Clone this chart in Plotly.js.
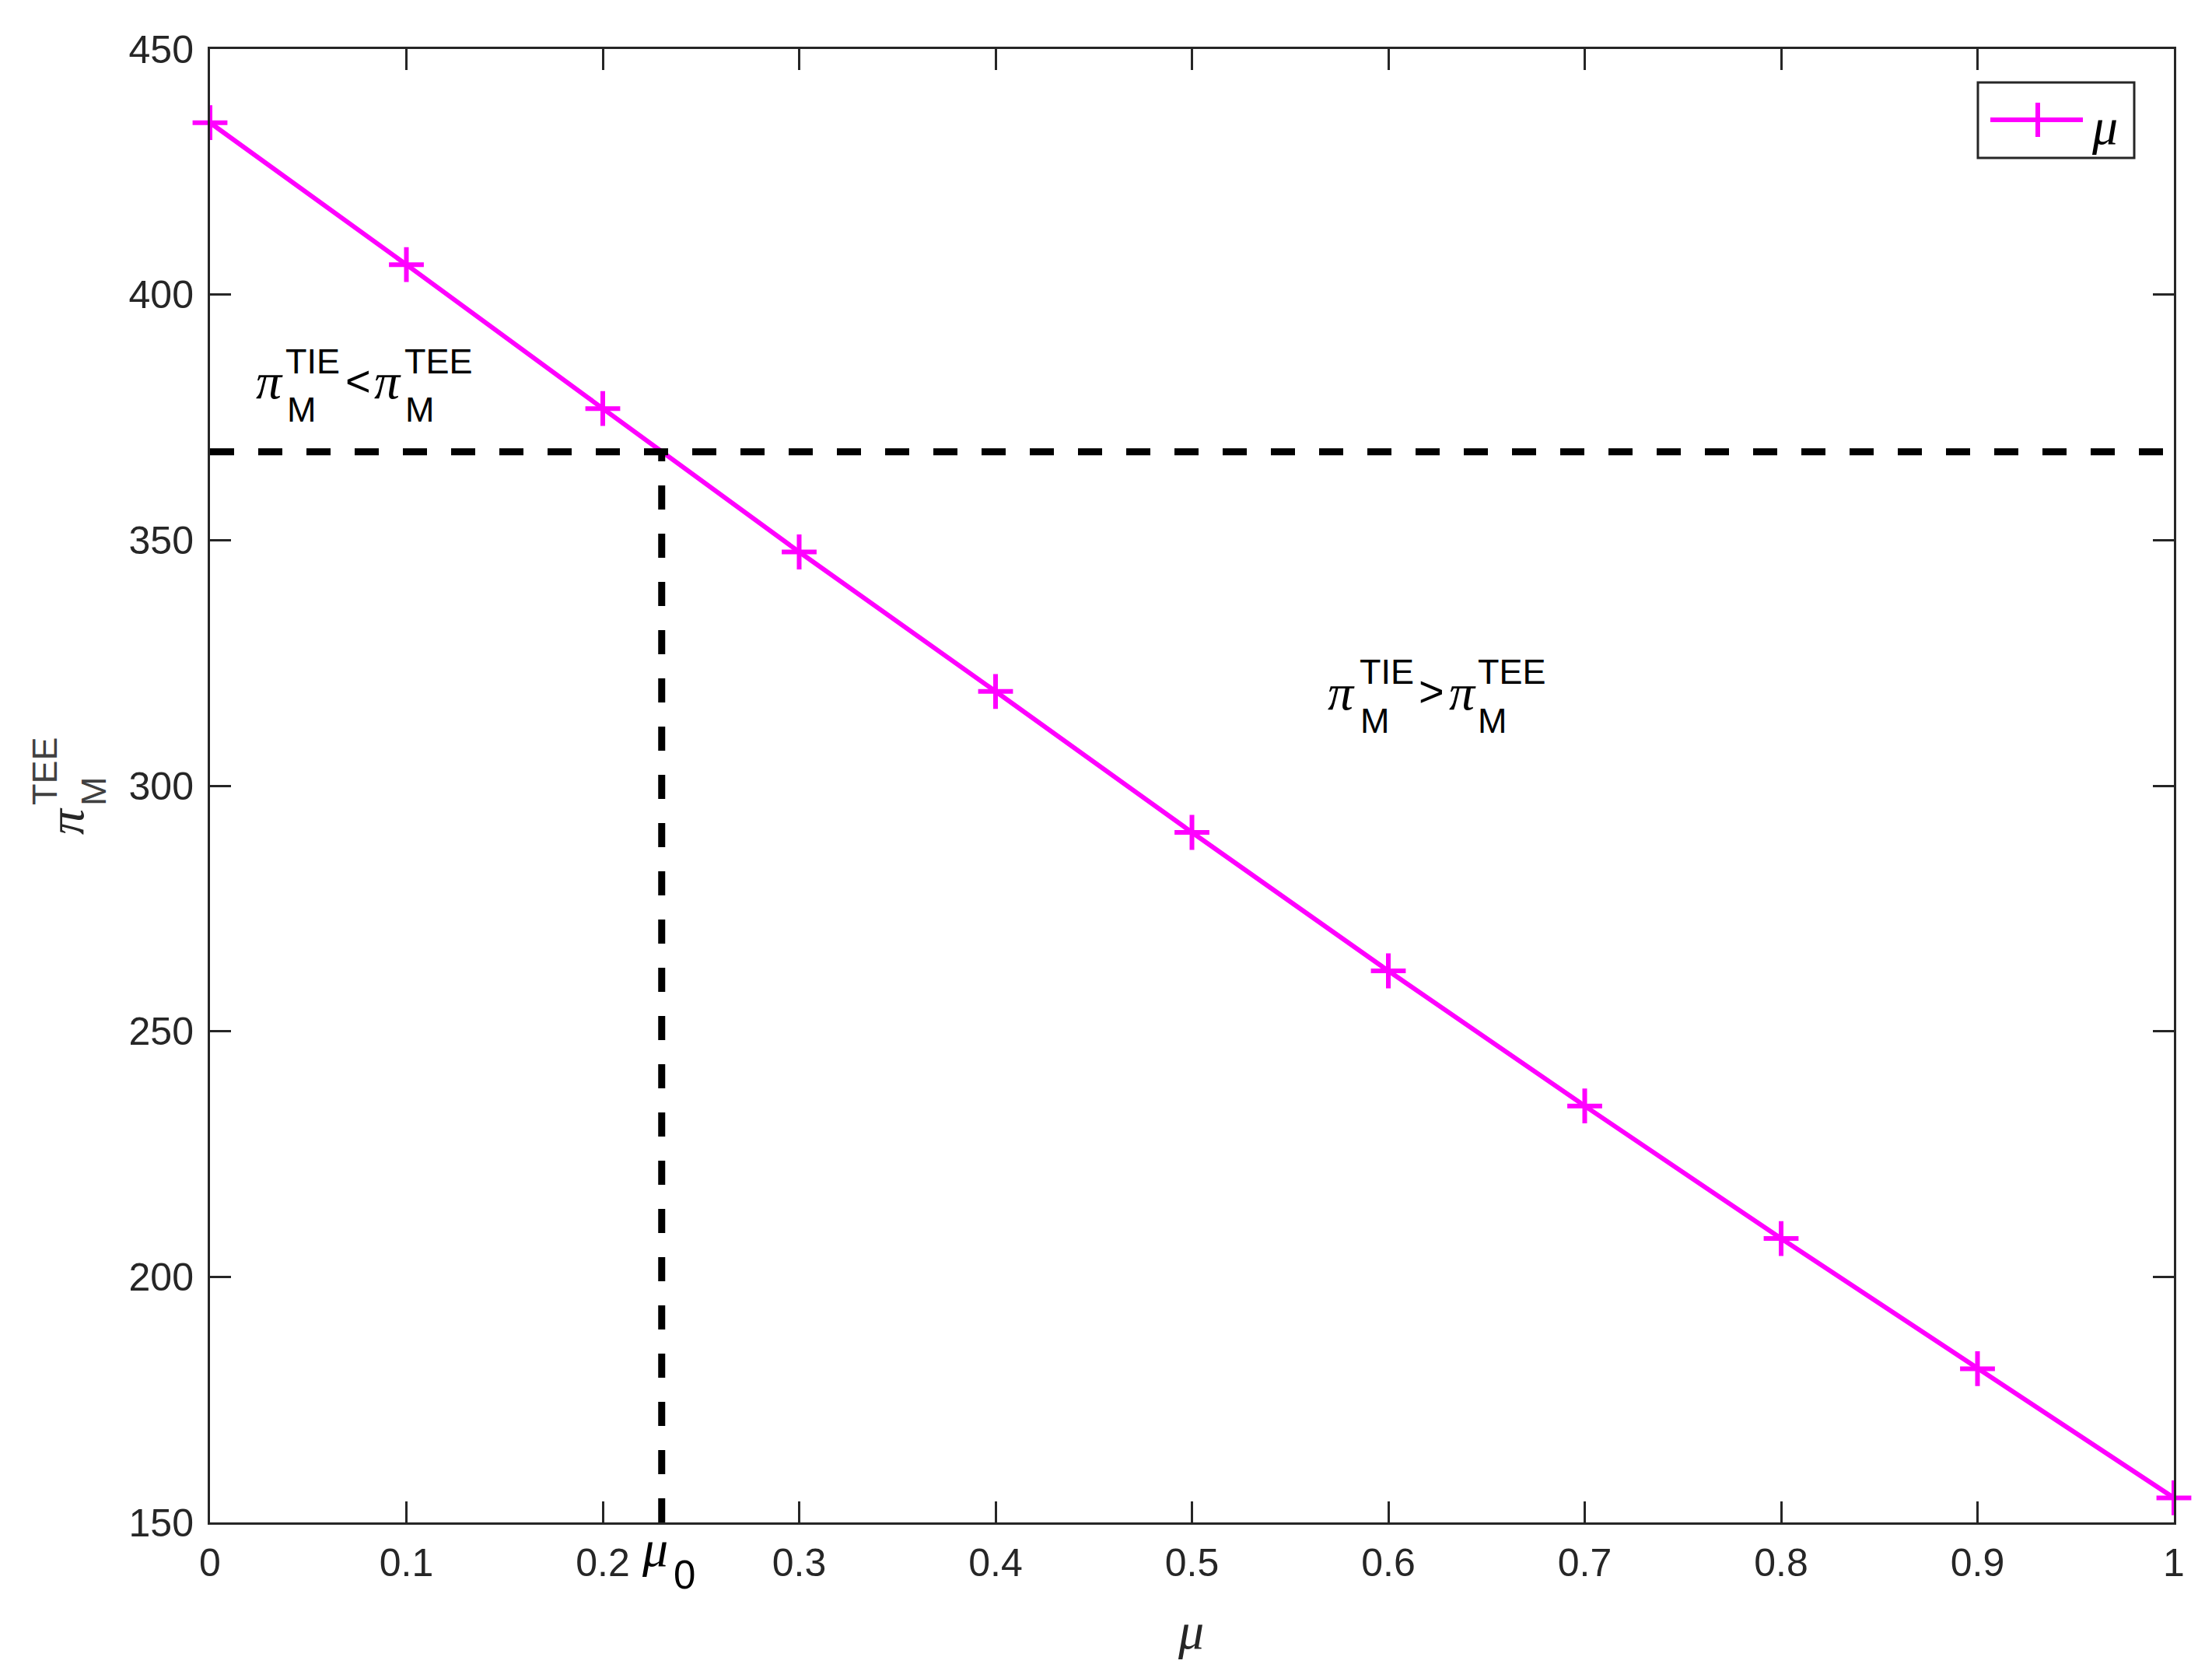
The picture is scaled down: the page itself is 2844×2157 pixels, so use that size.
<!DOCTYPE html>
<html>
<head>
<meta charset="utf-8">
<script src="https://cdn.plot.ly/plotly-3.0.1.min.js"></script>
<style>html,body{margin:0;padding:0;background:#fff;}</style>
</head>
<body>
<div id="chart" style="width:2844px;height:2157px;"></div>
<script>
// ---- data ----
const muValues = [0, 0.1, 0.2, 0.3, 0.4, 0.5, 0.6, 0.7, 0.8, 0.9, 1];
const profitTEE = [435, 406.1, 376.8, 347.6, 319.2, 290.5, 262.3, 234.8, 207.8, 181.3, 155];
const mu0 = 0.23;
const threshold = 368;
const xTickVals = [0, 0.1, 0.2, 0.3, 0.4, 0.5, 0.6, 0.7, 0.8, 0.9, 1];
const xTickText = ['0', '0.1', '0.2', '0.3', '0.4', '0.5', '0.6', '0.7', '0.8', '0.9', '1'];
const yTickVals = [150, 200, 250, 300, 350, 400, 450];
const yTickText = ['150', '200', '250', '300', '350', '400', '450'];
const xRange = [0, 1];
const yRange = [150, 450];

// ---- layout helpers ----
const W = 2844, H = 2157, L = 270, R = 49, T = 63, B = 200;
const PW = W - L - R, PH = H - T - B;
const px = v => (v - L) / PW;
const py = v => (H - B - v) / PH;
const AX = '#262626';
const SANS = 'Liberation Sans, Arial, sans-serif';
const SERIF = 'Liberation Serif, Times New Roman, serif';
const GS = 66;

function txt(x, y, text, opts) {
  opts = opts || {};
  return Object.assign({
    xref: 'paper', yref: 'paper', x: px(x), y: py(y), text: text,
    showarrow: false, xanchor: 'center', yanchor: 'middle',
    borderpad: 0, borderwidth: 0,
    font: {family: SANS, size: 45, color: '#000'}
  }, opts);
}
function greek(x, y, ch, opts) {
  return txt(x, y, ch, Object.assign({font: {family: SERIF, size: GS, color: '#000', style: 'italic'}}, opts || {}));
}

const annotations = [
  // left region label
  greek(346, 490, 'π'),
  txt(367, 464, 'TIE', {xanchor: 'left'}),
  txt(369, 526, 'M', {xanchor: 'left'}),
  txt(460, 490, '<', {font: {family: SANS, size: 56, color: '#000'}}),
  greek(498, 490, 'π'),
  txt(520, 464, 'TEE', {xanchor: 'left'}),
  txt(521, 526, 'M', {xanchor: 'left'}),
  // right region label
  greek(1724, 889, 'π'),
  txt(1748, 863, 'TIE', {xanchor: 'left'}),
  txt(1749, 926, 'M', {xanchor: 'left'}),
  txt(1840, 888, '>', {font: {family: SANS, size: 56, color: '#000'}}),
  greek(1880, 889, 'π'),
  txt(1900, 863, 'TEE', {xanchor: 'left'}),
  txt(1900, 926, 'M', {xanchor: 'left'}),
  // x axis title
  greek(1531, 2096, 'μ', {font: {family: SERIF, size: GS, color: AX, style: 'italic'}}),
  // mu0 label
  greek(842, 1990, 'μ'),
  txt(880, 2025, '0', {font: {family: SANS, size: 51, color: '#000'}}),
  // y axis title (rotated)
  greek(84, 1056, 'π', {textangle: -90, font: {family: SERIF, size: GS, color: AX, style: 'italic'}}),
  txt(57, 991, 'TEE', {textangle: -90, font: {family: SANS, size: 45, color: '#404040'}}),
  txt(120, 1017, 'M', {textangle: -90, font: {family: SANS, size: 45, color: '#404040'}}),
  // legend label
  greek(2706, 162, 'μ')
];

const shapes = [
  // legend box
  {type: 'rect', xref: 'paper', yref: 'paper', x0: px(2543), x1: px(2744), y0: py(203), y1: py(106),
   line: {color: AX, width: 3}, fillcolor: '#fff', layer: 'above'},
  {type: 'line', xref: 'paper', yref: 'paper', x0: px(2559), x1: px(2678), y0: py(154), y1: py(154),
   line: {color: '#FF00FF', width: 6}, layer: 'above'},
  {type: 'line', xref: 'paper', yref: 'paper', x0: px(2620), x1: px(2620), y0: py(132), y1: py(176),
   line: {color: '#FF00FF', width: 6}, layer: 'above'}
];

const traces = [
  {
    x: muValues, y: profitTEE, name: 'μ', type: 'scatter', mode: 'lines+markers',
    line: {color: '#FF00FF', width: 6},
    marker: {symbol: 'cross-thin', size: 32, color: '#FF00FF', line: {color: '#FF00FF', width: 6}},
    cliponaxis: false, showlegend: false
  },
  {
    x: [xRange[0], xRange[1]], y: [threshold, threshold], type: 'scatter', mode: 'lines',
    line: {color: '#000', width: 9, dash: '31px,31px'}, showlegend: false, hoverinfo: 'skip'
  },
  {
    x: [mu0, mu0], y: [yRange[0], threshold], type: 'scatter', mode: 'lines',
    line: {color: '#000', width: 9, dash: '31px,31px'}, showlegend: false, hoverinfo: 'skip'
  }
];

const axisCommon = {
  showgrid: false, zeroline: false, showline: true, linecolor: AX, linewidth: 3,
  mirror: 'ticks', ticks: 'inside', ticklen: 27, tickwidth: 3, tickcolor: AX,
  tickfont: {family: SANS, size: 50, color: AX}, fixedrange: true
};

const layout = {
  width: W, height: H,
  margin: {l: L, r: R, t: T, b: B, pad: 0},
  paper_bgcolor: '#fff', plot_bgcolor: '#fff',
  showlegend: false,
  xaxis: Object.assign({}, axisCommon, {range: xRange, tickmode: 'array', tickvals: xTickVals, ticktext: xTickText,
    ticklabelstandoff: 6}),
  yaxis: Object.assign({}, axisCommon, {range: yRange, tickmode: 'array', tickvals: yTickVals, ticktext: yTickText,
    ticklabelstandoff: 8}),
  annotations: annotations,
  shapes: shapes
};

Plotly.newPlot('chart', traces, layout, {staticPlot: true, displayModeBar: false});
</script>
</body>
</html>
